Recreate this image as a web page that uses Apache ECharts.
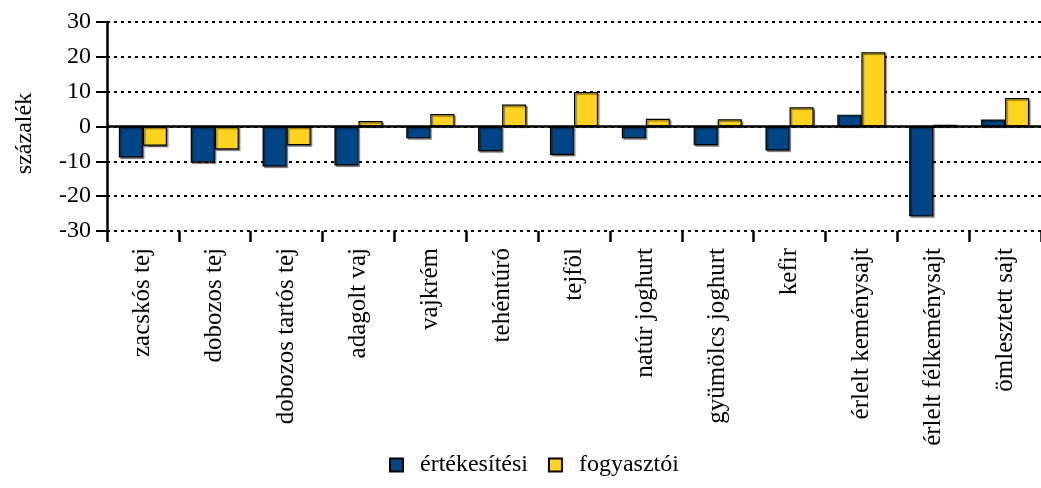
<!DOCTYPE html>
<html>
<head>
<meta charset="utf-8">
<script src="https://cdn.jsdelivr.net/npm/echarts@6/dist/echarts.min.js"></script>
<style>
  html, body { margin: 0; padding: 0; background: #fff; }
  #chart { width: 1041px; height: 488px; }
</style>
</head>
<body>
<div id="chart"></div>
<script>
// termékek
const categories = ['zacskós tej', 'dobozos tej', 'dobozos tartós tej', 'adagolt vaj', 'vajkrém',
  'tehéntúró', 'tejföl', 'natúr joghurt', 'gyümölcs joghurt', 'kefir',
  'érlelt keménysajt', 'érlelt félkeménysajt', 'ömlesztett sajt'];
// értékesítési ár változás (%)
const ertekesitesi = [-8.9, -10.3, -11.5, -11.2, -3.4, -7.1, -8.2, -3.4, -5.4, -6.9, 3.4, -25.8, 2.0];
// fogyasztói ár változás (%)
const fogyasztoi = [-5.5, -6.6, -5.4, 1.6, 3.6, 6.3, 9.9, 2.2, 2.1, 5.5, 21.3, 0.5, 8.2];

const font = '"Liberation Serif", "DejaVu Serif", serif';

const barStyle = (color) => ({
  color: color,
  borderColor: '#000',
  borderWidth: 1.2,
  shadowColor: 'rgba(0,0,0,0.45)',
  shadowOffsetX: 1.5,
  shadowOffsetY: 1.5,
  shadowBlur: 1
});

const chart = echarts.init(document.getElementById('chart'));
chart.setOption({
  animation: false,
  textStyle: { fontFamily: font, color: '#000' },
  grid: { left: 107, right: 0, top: 22, bottom: 257, containLabel: false, outerBoundsMode: 'none' },
  legend: {
    data: ['értékesítési', 'fogyasztói'],
    bottom: 6,
    left: 384,
    icon: 'rect',
    itemWidth: 13,
    itemHeight: 13,
    itemGap: 20,
    textStyle: { fontFamily: font, fontSize: 24, color: '#000', padding: [0, 0, 0, 12] }
  },
  xAxis: {
    type: 'category',
    data: categories,
    axisLine: { show: false, onZero: false },
    axisTick: { show: true, alignWithLabel: false, length: 11, lineStyle: { color: '#000', width: 2.5 } },
    axisLabel: { rotate: 90, margin: 17, fontSize: 25, fontFamily: font, color: '#000', interval: 0 }
  },
  yAxis: {
    type: 'value',
    min: -30,
    max: 30,
    interval: 10,
    name: 'százalék',
    nameLocation: 'middle',
    nameGap: 70,
    nameTextStyle: { fontSize: 24, fontFamily: font, color: '#000', padding: [0, 14, 0, 0] },
    axisLine: { show: true, lineStyle: { color: '#000', width: 2.5 } },
    axisTick: { show: true, length: 11, lineStyle: { color: '#000', width: 2 } },
    axisLabel: { fontSize: 24, fontFamily: font, color: '#000', margin: 16 },
    splitLine: { show: true, lineStyle: { color: '#000', width: 2, type: [3, 4] } }
  },
  series: [
    {
      name: 'értékesítési',
      type: 'bar',
      data: ertekesitesi,
      barGap: '0%',
      barCategoryGap: '33%',
      itemStyle: barStyle('#004586'),
      markLine: {
        silent: true,
        symbol: 'none',
        label: { show: false },
        lineStyle: { color: '#000', width: 2.5, type: 'solid' },
        data: [{ yAxis: 0 }]
      }
    },
    {
      name: 'fogyasztói',
      type: 'bar',
      data: fogyasztoi,
      barGap: '0%',
      barCategoryGap: '33%',
      itemStyle: barStyle('#ffd320')
    }
  ]
});
</script>
</body>
</html>
